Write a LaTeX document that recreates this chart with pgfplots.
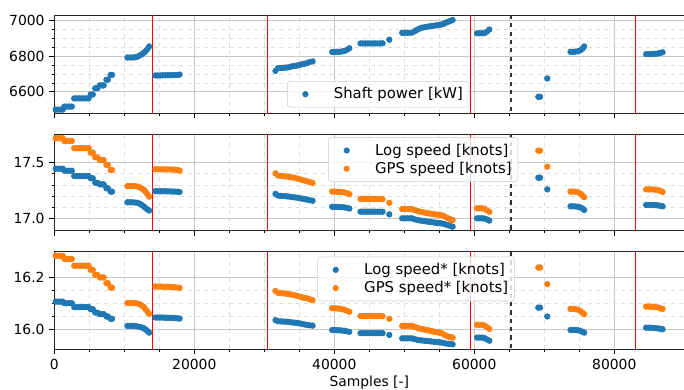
\documentclass[border=0pt]{standalone}
\usepackage{fontspec}
\setmainfont{DejaVu Sans}
\usepackage{pgfplots}
\usepackage{pgfplotstable}
\pgfplotsset{compat=1.18}
\definecolor{c0}{HTML}{1F77B4}
\definecolor{c1}{HTML}{FF7F0E}

\pgfplotstableread{
x P L G Ls Gs
200 6500 17.446 17.720 16.106 16.282
550 6500 17.446 17.720 16.106 16.282
900 6500 17.446 17.720 16.106 16.282
1200 6500 17.446 17.720 16.106 16.282
1450 6517 17.428 17.695 16.100 16.270
1800 6517 17.428 17.695 16.100 16.270
2150 6517 17.428 17.695 16.100 16.270
2500 6517 17.428 17.695 16.100 16.270
2850 6563 17.380 17.630 16.085 16.244
3200 6563 17.380 17.630 16.085 16.244
3550 6563 17.380 17.630 16.085 16.244
3900 6563 17.380 17.630 16.085 16.244
4250 6563 17.380 17.630 16.085 16.244
4600 6563 17.380 17.630 16.085 16.244
4900 6563 17.380 17.630 16.085 16.244
5200 6585 17.360 17.590 16.077 16.228
5500 6585 17.360 17.590 16.077 16.228
5850 6620 17.320 17.548 16.064 16.209
6150 6620 17.320 17.548 16.064 16.209
6500 6636 17.305 17.524 16.058 16.199
6800 6636 17.305 17.524 16.058 16.199
7050 6636 17.305 17.524 16.058 16.199
7450 6668 17.270 17.480 16.049 16.177
7650 6668 17.270 17.480 16.049 16.177
8050 6695 17.240 17.434 16.040 16.160
8250 6695 17.240 17.434 16.040 16.160
10450 6793 17.144 17.290 16.013 16.101
10800 6793 17.144 17.290 16.013 16.101
11150 6793 17.144 17.290 16.013 16.101
11500 6794 17.142 17.289 16.012 16.100
11850 6797 17.140 17.286 16.011 16.099
12200 6804 17.132 17.279 16.009 16.096
12500 6811 17.120 17.268 16.007 16.091
12800 6820 17.106 17.256 16.004 16.085
13050 6829 17.092 17.238 15.999 16.076
13300 6840 17.080 17.218 15.993 16.068
13550 6855 17.070 17.195 15.987 16.059
14450 6692 17.244 17.441 16.045 16.164
14800 6692 17.244 17.441 16.045 16.164
15150 6692 17.243 17.440 16.045 16.164
15500 6693 17.243 17.440 16.045 16.163
15850 6693 17.243 17.440 16.044 16.163
16200 6693 17.242 17.439 16.044 16.163
16550 6693 17.242 17.439 16.044 16.162
16900 6694 17.241 17.438 16.043 16.162
17250 6694 17.240 17.437 16.043 16.161
17600 6695 17.239 17.434 16.042 16.160
17900 6697 17.237 17.428 16.041 16.159
31600 6718 17.220 17.404 16.035 16.147
31950 6733 17.205 17.385 16.031 16.140
32300 6734 17.202 17.381 16.030 16.139
32650 6735 17.200 17.379 16.030 16.138
33000 6736 17.199 17.377 16.029 16.137
33350 6737 17.197 17.375 16.029 16.136
33700 6740 17.194 17.370 16.027 16.134
34050 6744 17.190 17.366 16.026 16.132
34400 6746 17.188 17.362 16.025 16.130
34750 6748 17.185 17.357 16.024 16.128
35100 6752 17.180 17.350 16.022 16.125
35450 6756 17.176 17.344 16.020 16.122
35800 6758 17.172 17.338 16.018 16.120
36150 6762 17.168 17.332 16.017 16.118
36500 6768 17.163 17.325 16.015 16.115
36900 6771 17.158 17.318 16.014 16.112
39700 6824 17.104 17.240 15.997 16.081
40050 6824 17.103 17.240 15.997 16.080
40400 6825 17.102 17.239 15.996 16.080
40750 6825 17.101 17.238 15.996 16.079
41100 6827 17.100 17.236 15.995 16.077
41450 6830 17.098 17.232 15.994 16.075
41800 6836 17.094 17.226 15.992 16.071
42150 6845 17.088 17.217 15.990 16.067
43750 6872 17.060 17.175 15.985 16.051
44100 6872 17.060 17.175 15.985 16.051
44450 6872 17.060 17.175 15.985 16.051
44800 6872 17.060 17.175 15.985 16.051
45150 6872 17.060 17.174 15.985 16.051
45500 6872 17.060 17.174 15.985 16.051
45850 6872 17.060 17.174 15.985 16.051
46200 6872 17.060 17.174 15.985 16.051
46550 6872 17.060 17.174 15.985 16.051
46900 6873 17.059 17.173 15.985 16.050
47860 6893 17.036 17.140 15.978 16.040
49700 6932 17.000 17.083 15.965 16.013
50050 6932 17.000 17.083 15.965 16.013
50400 6932 17.000 17.083 15.965 16.013
50750 6932 17.000 17.083 15.965 16.013
51100 6933 17.000 17.083 15.965 16.013
51450 6940 16.992 17.075 15.962 16.009
51800 6948 16.986 17.068 15.960 16.006
52150 6955 16.982 17.062 15.958 16.003
52500 6960 16.978 17.057 15.957 16.001
52850 6963 16.975 17.052 15.956 15.999
53200 6965 16.972 17.048 15.955 15.997
53550 6968 16.968 17.044 15.954 15.995
53900 6970 16.965 17.040 15.953 15.993
54250 6972 16.962 17.037 15.952 15.991
54600 6974 16.960 17.034 15.951 15.989
54950 6976 16.957 17.031 15.950 15.987
55300 6978 16.955 17.028 15.949 15.985
55650 6983 16.950 17.020 15.947 15.980
56000 6990 16.943 17.008 15.945 15.975
56350 6995 16.937 16.998 15.944 15.971
56650 7000 16.930 16.990 15.943 15.969
56900 7004 16.925 16.985 15.942 15.968
60400 6929 17.000 17.090 15.968 16.017
60750 6929 17.000 17.090 15.968 16.017
61100 6929 17.000 17.090 15.968 16.017
61450 6930 16.998 17.086 15.966 16.014
61800 6938 16.990 17.072 15.961 16.008
62150 6950 16.980 17.057 15.956 16.001
69150 6572 17.365 17.608 16.083 16.237
69400 6572 17.365 17.608 16.083 16.237
70430 6675 17.260 17.464 16.049 16.173
73750 6825 17.108 17.240 15.997 16.078
74100 6825 17.108 17.240 15.997 16.078
74450 6826 17.107 17.239 15.997 16.077
74800 6828 17.104 17.234 15.996 16.075
75150 6833 17.098 17.222 15.994 16.070
75450 6842 17.088 17.206 15.990 16.064
75700 6855 17.075 17.190 15.987 16.058
84550 6812 17.120 17.260 16.006 16.087
84900 6812 17.120 17.260 16.006 16.087
85250 6812 17.120 17.260 16.006 16.087
85600 6813 17.119 17.259 16.005 16.086
85950 6814 17.118 17.257 16.004 16.085
86300 6816 17.116 17.253 16.003 16.083
86600 6819 17.112 17.246 16.002 16.080
86900 6822 17.108 17.237 16.000 16.078
}\data

\pgfplotsset{
  myax/.style={
    scale only axis, width=453.6pt, height=70.3pt,
    anchor=north west,
    xmin=0, xmax=90000,
    xtick={0,20000,40000,60000,80000},
    minor x tick num=3,
    grid=both,
    major grid style={black!22, line width=0.6pt},
    minor grid style={black!13, dashed, line width=0.5pt},
    tick align=outside, tick pos=left,
    major tick length=3.5pt, minor tick length=2pt,
    every tick/.style={black, line width=0.6pt},
    axis line style={black!85, line width=0.6pt},
    /pgf/number format/assume math mode=true,
    /pgf/number format/set thousands separator={},
    scaled ticks=false,
    tick label style={font=\fontsize{10}{12}\selectfont},
    label style={font=\fontsize{10}{12}\selectfont},
    xlabel style={yshift=2.5pt},
    legend cell align=left,
    legend style={draw=black!20, rounded corners=2pt, fill=white, fill opacity=0.8, text opacity=1,
      font=\fontsize{10.7}{12.5}\selectfont, inner xsep=3pt, inner ysep=3pt,
      nodes={inner sep=1.5pt}, row sep=0.5pt},
  },
  dot/.style={only marks, mark=*, mark size=2.05pt, color=#1, mark options={draw=#1, fill=#1},
    legend image code/.code={\path[draw=none, fill=none] (0pt,0pt) -- (29pt,0pt);
      \path[draw=none, fill=#1, fill opacity=1] (10pt,0pt) circle (2.25pt);}},
  vl/.style={red, line width=1.1pt, forget plot},
  vd/.style={black!80, dashed, line width=1.1pt, forget plot},
}

\begin{document}
\begin{tikzpicture}
\useasboundingbox (-39.1pt,11.3pt) rectangle (453.4pt,-269.5pt);

% top: shaft power
\begin{axis}[myax, at={(0pt,0pt)},
  ymin=6479, ymax=7028,
  ytick={6600,6800,7000}, minor y tick num=3,
  xticklabels={},
  legend style={at={(rel axis cs:0.3695,0.331)}, anchor=north west}]
\addplot[dot=c0] table[x=x,y=P] {\data};
\addlegendentry{Shaft power [kW]}
\addplot[vl] coordinates {(14050,6400) (14050,7100)};
\addplot[vl] coordinates {(30430,6400) (30430,7100)};
\addplot[vl] coordinates {(59470,6400) (59470,7100)};
\addplot[vl] coordinates {(83000,6400) (83000,7100)};
\addplot[vd] coordinates {(65240,6400) (65240,7100)};
\end{axis}

% middle: speeds
\begin{axis}[myax, at={(0pt,-85.4pt)}, height=69.4pt,
  ymin=16.889, ymax=17.755,
  ytick={17.0,17.5}, minor y tick num=4,
  yticklabel style={/pgf/number format/.cd, fixed, fixed zerofill, precision=1},
  xticklabels={},
  legend style={at={(rel axis cs:0.435,0.969)}, anchor=north west}]
\addplot[dot=c0] table[x=x,y=L] {\data};
\addlegendentry{Log speed [knots]}
\addplot[dot=c1] table[x=x,y=G] {\data};
\addlegendentry{GPS speed [knots]}
\addplot[vl] coordinates {(14050,16) (14050,18)};
\addplot[vl] coordinates {(30430,16) (30430,18)};
\addplot[vl] coordinates {(59470,16) (59470,18)};
\addplot[vl] coordinates {(83000,16) (83000,18)};
\addplot[vd] coordinates {(65240,16) (65240,18)};
\end{axis}

% bottom: speeds*
\begin{axis}[myax, at={(0pt,-169.9pt)},
  ymin=15.923, ymax=16.298,
  ytick={16.0,16.2}, minor y tick num=3,
  yticklabel style={/pgf/number format/.cd, fixed, fixed zerofill, precision=1},
  xlabel={Samples [-]},
  legend style={at={(rel axis cs:0.4177,0.949)}, anchor=north west}]
\addplot[dot=c0] table[x=x,y=Ls] {\data};
\addlegendentry{Log speed* [knots]}
\addplot[dot=c1] table[x=x,y=Gs] {\data};
\addlegendentry{GPS speed* [knots]}
\addplot[vl] coordinates {(14050,15) (14050,17)};
\addplot[vl] coordinates {(30430,15) (30430,17)};
\addplot[vl] coordinates {(59470,15) (59470,17)};
\addplot[vl] coordinates {(83000,15) (83000,17)};
\addplot[vd] coordinates {(65240,15) (65240,17)};
\end{axis}
\end{tikzpicture}
\end{document}
